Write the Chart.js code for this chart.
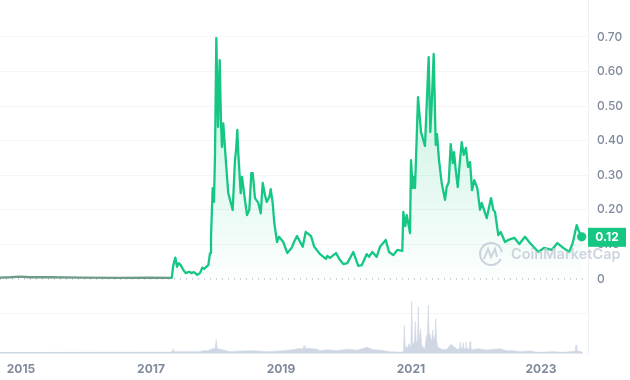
<!DOCTYPE html>
<html>
<head>
<meta charset="utf-8">
<title>Price chart</title>
<script src="https://cdn.jsdelivr.net/npm/chart.js@4"></script>
<style>
    html, body { margin: 0; padding: 0; background: #fff; }
    canvas { display: block; }
</style>
</head>
<body>
<canvas id="ChartPrice" width="630" height="380"></canvas>
<script>
var priceDates = [
    2014.677, 2014.831, 2014.985, 2015.138, 2015.446, 2015.908, 2016.523, 2016.985, 2017.293,
    2017.319, 2017.343, 2017.374, 2017.400, 2017.426, 2017.457, 2017.497, 2017.534, 2017.585, 2017.626,
    2017.662, 2017.712, 2017.754, 2017.789, 2017.815, 2017.882, 2017.908, 2017.923, 2017.949, 2017.969,
    2017.985, 2018.005, 2018.031, 2018.057, 2018.077, 2018.092, 2018.112, 2018.154, 2018.189, 2018.257,
    2018.292, 2018.308, 2018.328, 2018.343, 2018.380, 2018.400, 2018.442, 2018.477, 2018.512, 2018.543,
    2018.565, 2018.600, 2018.651, 2018.688, 2018.719, 2018.754, 2018.780, 2018.820, 2018.842, 2018.872,
    2018.897, 2018.939, 2018.969, 2019.035, 2019.097, 2019.165, 2019.200, 2019.246, 2019.334, 2019.380,
    2019.462, 2019.512, 2019.600, 2019.692, 2019.712, 2019.754, 2019.846, 2019.897, 2019.959, 2020.020,
    2020.112, 2020.189, 2020.242, 2020.319, 2020.354, 2020.405, 2020.472, 2020.523, 2020.611, 2020.662,
    2020.728, 2020.789, 2020.866, 2020.882, 2020.912, 2020.934, 2020.985, 2021.000, 2021.026, 2021.046,
    2021.062, 2021.108, 2021.154, 2021.215, 2021.251, 2021.272, 2021.297, 2021.319, 2021.349, 2021.380,
    2021.400, 2021.431, 2021.472, 2021.523, 2021.549, 2021.580, 2021.611, 2021.642, 2021.662, 2021.688,
    2021.719, 2021.754, 2021.780, 2021.811, 2021.846, 2021.877, 2021.908, 2021.939, 2021.974, 2022.020,
    2022.062, 2022.088, 2022.165, 2022.231, 2022.266, 2022.292, 2022.343, 2022.380, 2022.446, 2022.497,
    2022.589, 2022.666, 2022.754, 2022.831, 2022.959, 2023.046, 2023.165, 2023.251, 2023.343, 2023.435,
    2023.488, 2023.549, 2023.574, 2023.626
];
var prices = [
    0.004, 0.005, 0.007, 0.005, 0.005, 0.004, 0.003, 0.004, 0.003,
    0.003, 0.040, 0.062, 0.035, 0.046, 0.040, 0.026, 0.017, 0.021, 0.017,
    0.020, 0.012, 0.017, 0.033, 0.029, 0.040, 0.075, 0.122, 0.263, 0.223,
    0.364, 0.697, 0.440, 0.633, 0.450, 0.382, 0.450, 0.335, 0.248, 0.200,
    0.344, 0.373, 0.431, 0.364, 0.248, 0.295, 0.234, 0.185, 0.200, 0.306,
    0.306, 0.234, 0.220, 0.190, 0.278, 0.243, 0.223, 0.237, 0.260, 0.220,
    0.162, 0.107, 0.122, 0.107, 0.075, 0.090, 0.107, 0.124, 0.093, 0.136,
    0.124, 0.093, 0.072, 0.058, 0.067, 0.061, 0.075, 0.058, 0.043, 0.046,
    0.078, 0.038, 0.040, 0.072, 0.064, 0.078, 0.064, 0.093, 0.113, 0.078,
    0.069, 0.084, 0.081, 0.194, 0.153, 0.185, 0.133, 0.344, 0.263, 0.295,
    0.263, 0.526, 0.425, 0.385, 0.547, 0.642, 0.425, 0.509, 0.651, 0.388,
    0.419, 0.344, 0.278, 0.229, 0.266, 0.280, 0.390, 0.335, 0.367, 0.315,
    0.266, 0.344, 0.396, 0.359, 0.379, 0.324, 0.338, 0.257, 0.286, 0.263,
    0.200, 0.220, 0.176, 0.234, 0.200, 0.194, 0.127, 0.136, 0.107, 0.113,
    0.119, 0.101, 0.122, 0.104, 0.078, 0.090, 0.084, 0.104, 0.090, 0.078,
    0.104, 0.156, 0.142, 0.122
];

var volumeDates = [
    2014.677, 2017.293, 2017.329, 2017.343, 2017.357, 2017.370, 2017.754, 2017.800, 2017.877, 2017.908,
    2017.954, 2017.985, 2017.992, 2018.005, 2018.018, 2018.031, 2018.092, 2018.215, 2018.343, 2018.569,
    2018.785, 2018.939, 2019.185, 2019.262, 2019.340, 2019.354, 2019.368, 2019.400, 2019.554, 2019.600,
    2019.708, 2019.846, 2020.031, 2020.169, 2020.323, 2020.415, 2020.523, 2020.677, 2020.831, 2020.877,
    2020.885, 2020.897, 2020.909, 2020.923, 2020.943, 2020.969, 2020.985, 2020.998, 2021.011, 2021.024,
    2021.046, 2021.053, 2021.066, 2021.079, 2021.100, 2021.112, 2021.124, 2021.137, 2021.149, 2021.161,
    2021.175, 2021.215, 2021.230, 2021.242, 2021.254, 2021.266, 2021.278, 2021.292, 2021.315, 2021.322,
    2021.334, 2021.342, 2021.352, 2021.368, 2021.380, 2021.392, 2021.410, 2021.472, 2021.549, 2021.611,
    2021.677, 2021.712, 2021.747, 2021.759, 2021.771, 2021.780, 2021.793, 2021.805, 2021.817, 2021.834,
    2021.846, 2021.858, 2021.896, 2021.908, 2021.920, 2021.939, 2022.031, 2022.165, 2022.262, 2022.369,
    2022.472, 2022.569, 2022.677, 2022.831, 2022.934, 2023.185, 2023.339, 2023.446, 2023.527, 2023.539,
    2023.551, 2023.569, 2023.642
];
var volumes = [
    0.02, 0.05, 0.10, 0.40, 0.10, 0.10, 0.10, 0.20, 0.20, 0.30,
    0.40, 0.40, 0.40, 1.30, 0.40, 0.40, 0.30, 0.10, 0.15, 0.20,
    0.10, 0.15, 0.30, 0.40, 0.40, 0.70, 0.40, 0.45, 0.35, 0.20,
    0.30, 0.20, 0.35, 0.25, 0.55, 0.30, 0.25, 0.10, 0.05, 0.10,
    0.15, 2.77, 0.50, 0.70, 0.35, 0.90, 0.60, 0.70, 5.17, 0.80,
    1.00, 1.00, 3.10, 1.10, 1.20, 4.60, 1.10, 1.10, 2.40, 0.90,
    0.60, 0.40, 1.30, 1.77, 1.80, 4.77, 1.90, 1.70, 1.20, 1.30,
    2.27, 1.30, 1.60, 1.40, 3.40, 1.30, 0.60, 0.33, 0.33, 0.83,
    0.53, 0.33, 0.40, 1.10, 0.40, 0.43, 0.40, 1.00, 0.40, 0.40,
    1.10, 0.40, 0.40, 1.10, 0.35, 0.30, 0.40, 0.27, 0.33, 0.40,
    0.20, 0.20, 0.10, 0.17, 0.04, 0.10, 0.04, 0.10, 0.15, 0.77,
    0.20, 0.17, 0.05
];

var yearTicks = [2015, 2017, 2019, 2021, 2023];
var priceTicks = [-0.101, 0, 0.1, 0.2, 0.3, 0.4, 0.5, 0.6, 0.7];
var lastPriceLabel = "0.12";
var brandName = "CoinMarketCap";

var green = "#16c784";
var labelGrey = "#808a9d";
var volumeGrey = "#cfd6e4";

function toPoints(xs, ys) {
    return xs.map(function (x, i) {
        return { x: x, y: ys[i] };
    });
}

// watermark and the current price tag on the right
var overlayPlugin = {
    id: "overlay",
    afterDraw: function (chart) {
        var ctx = chart.ctx;
        var y = chart.scales.y.getPixelForValue(prices[prices.length - 1]);
        var right = chart.chartArea.right;

        ctx.save();
        ctx.strokeStyle = "rgba(190,197,212,0.75)";
        ctx.lineWidth = 2;
        ctx.beginPath();
        ctx.arc(491, 254, 11, 0.15 * Math.PI, 1.95 * Math.PI);
        ctx.stroke();
        ctx.beginPath();
        ctx.moveTo(484, 259);
        ctx.lineTo(488, 249);
        ctx.lineTo(491, 257);
        ctx.lineTo(495, 249);
        ctx.lineTo(497, 257);
        ctx.stroke();
        ctx.fillStyle = "rgba(190,197,212,0.75)";
        ctx.font = "600 14.5px Inter";
        ctx.textBaseline = "middle";
        ctx.textAlign = "left";
        ctx.fillText(brandName, 511, 255);

        ctx.fillStyle = green;
        ctx.fillRect(right, y - 9, 38, 19);
        ctx.fillStyle = "#fff";
        ctx.font = "700 12px Inter";
        ctx.textAlign = "center";
        ctx.fillText(lastPriceLabel, right + 19, y + 1);
        ctx.restore();
    }
};

var ctx = document.getElementById("ChartPrice").getContext("2d");

var graph = new Chart(ctx, {
    type: "line",
    data: {
        datasets: [
            {
                label: "Price",
                data: toPoints(priceDates, prices),
                yAxisID: "y",
                borderColor: green,
                borderWidth: 2.3,
                borderJoinStyle: "round",
                tension: 0,
                order: 1,
                fill: { value: 0 },
                backgroundColor: function (context) {
                    var y = context.chart.scales.y;
                    var top = y ? y.getPixelForValue(0.65) : NaN;
                    var bottom = y ? y.getPixelForValue(0) : NaN;
                    if (!isFinite(top) || !isFinite(bottom)) return "rgba(22,199,132,0.1)";
                    var g = context.chart.ctx.createLinearGradient(0, top, 0, bottom);
                    g.addColorStop(0, "rgba(22,199,132,0.26)");
                    g.addColorStop(1, "rgba(22,199,132,0.01)");
                    return g;
                },
                pointRadius: function (context) {
                    return context.dataIndex === prices.length - 1 ? 3.5 : 0;
                },
                pointBackgroundColor: green,
                pointBorderColor: green,
                segment: {
                    borderColor: function (context) {
                        return context.p1.parsed.x < 2017.3 ? "#6f9c86" : green;
                    }
                }
            },
            {
                label: "Zero",
                data: [{ x: 2014.677, y: 0 }, { x: 2023.723, y: 0 }],
                yAxisID: "y",
                borderColor: "#9aa3b2",
                borderWidth: 1,
                borderDash: [1, 5],
                pointRadius: 0,
                order: 2,
                fill: false
            },
            {
                label: "Volume",
                data: toPoints(volumeDates, volumes),
                yAxisID: "y2",
                borderColor: volumeGrey,
                backgroundColor: volumeGrey,
                borderWidth: 0.6,
                tension: 0,
                pointRadius: 0,
                order: 3,
                fill: { value: 0 }
            },
            {
                label: "Volume floor",
                data: [{ x: 2014.677, y: 0 }, { x: 2023.642, y: 0 }],
                yAxisID: "y2",
                borderColor: volumeGrey,
                borderWidth: 1.5,
                pointRadius: 0,
                order: 4,
                fill: false
            }
        ]
    },
    options: {
        responsive: false,
        animation: false,
        layout: { padding: 0, autoPadding: false },
        plugins: {
            legend: { display: false },
            title: { display: false },
            tooltip: { enabled: false }
        },
        scales: {
            x: {
                type: "linear",
                min: 2014.677,
                max: 2023.723,
                afterBuildTicks: function (scale) {
                    scale.ticks = yearTicks.map(function (v) { return { value: v }; });
                },
                afterFit: function (scale) {
                    scale.height = 26;
                    scale.paddingLeft = 0;
                    scale.paddingRight = 0;
                },
                grid: { display: false },
                border: { display: false },
                ticks: {
                    color: labelGrey,
                    padding: 0,
                    maxRotation: 0,
                    font: { family: "Inter", size: 12, weight: "700" },
                    callback: function (value) { return String(value); }
                }
            },
            y: {
                position: "right",
                min: -0.217,
                max: 0.807,
                afterBuildTicks: function (scale) {
                    scale.ticks = priceTicks.map(function (v) { return { value: v }; });
                },
                afterFit: function (scale) {
                    scale.width = 42;
                    scale.paddingTop = 0;
                    scale.paddingBottom = 0;
                },
                grid: {
                    drawTicks: false,
                    color: function (context) {
                        return context.tick && context.tick.value === 0 ? "rgba(0,0,0,0)" : "#f3f5f7";
                    }
                },
                border: { color: "#eff2f5" },
                ticks: {
                    color: labelGrey,
                    padding: 9,
                    font: { family: "Inter", size: 12, weight: "500" },
                    callback: function (value) {
                        if (value < 0) return "";
                        return value === 0 ? "0" : value.toFixed(2);
                    }
                }
            },
            y2: {
                display: false,
                min: -0.13,
                max: 35.27
            }
        }
    },
    plugins: [overlayPlugin]
});
</script>
</body>
</html>
